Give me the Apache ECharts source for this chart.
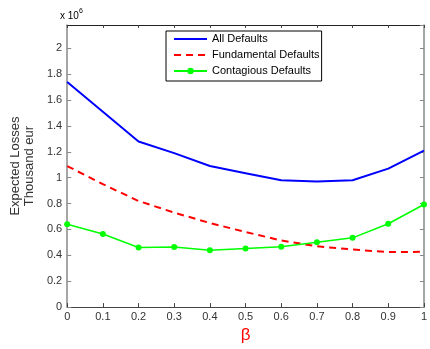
<!DOCTYPE html>
<html>
<head>
<meta charset="utf-8">
<script src="https://cdn.jsdelivr.net/npm/echarts@6/dist/echarts.min.js"></script>
<style>html,body{margin:0;padding:0;background:#fff}#c{width:430px;height:349px}</style>
</head>
<body>
<div id="c"></div>
<script>
const beta = [0, 0.1, 0.2, 0.3, 0.4, 0.5, 0.6, 0.7, 0.8, 0.9, 1];
const allDefaults = [1.74, 1.51, 1.28, 1.19, 1.09, 1.035, 0.98, 0.97, 0.98, 1.07, 1.21];
const fundamentalDefaults = [1.09, 0.95, 0.82, 0.73, 0.65, 0.58, 0.515, 0.47, 0.445, 0.425, 0.427];
const contagiousDefaults = [0.64, 0.565, 0.46, 0.465, 0.44, 0.452, 0.467, 0.502, 0.535, 0.644, 0.793];
const seriesNames = ['All Defaults', 'Fundamental Defaults', 'Contagious Defaults'];
const yAxisTitle = 'Expected Losses\nThousand eur';
const xAxisTitle = 'β';

const pairs = arr => beta.map((b, i) => [b, arr[i]]);
const font = 'Liberation Sans, Arial, sans-serif';
const fmt = v => String(+v.toFixed(1));

const chart = echarts.init(document.getElementById('c'), null, {renderer: 'canvas'});
chart.setOption({
  animation: false,
  backgroundColor: '#fff',
  textStyle: {fontFamily: font},
  grid: {left: 61, right: 3, top: 25, bottom: 36, containLabel: false},
  legend: {
    orient: 'vertical', left: 166, top: 31,
    padding: [2, 2, 4, 7], itemWidth: 33, itemHeight: 8, itemGap: 4,
    backgroundColor: '#fff', borderColor: '#000', borderWidth: 1, borderRadius: 0,
    textStyle: {fontFamily: font, fontSize: 11, color: '#000', lineHeight: 12},
    data: [
      {name: seriesNames[0], itemStyle: {opacity: 0}},
      {name: seriesNames[1], itemStyle: {opacity: 0}},
      {name: seriesNames[2]}
    ]
  },
  graphic: [{
    type: 'text', left: 60, top: 8,
    style: {
      text: '{a|x 10}{b|6}',
      rich: {
        a: {fontFamily: font, fontSize: 10, color: '#333', verticalAlign: 'bottom'},
        b: {fontFamily: font, fontSize: 7, color: '#333', verticalAlign: 'top', padding: [0, 0, 6, 0]}
      }
    }
  }],
  xAxis: [{
    type: 'value', min: 0, max: 1, interval: 0.1, position: 'bottom',
    name: xAxisTitle, nameLocation: 'middle', nameGap: 14,
    nameTextStyle: {color: '#ff0000', fontSize: 17, fontFamily: font},
    axisLine: {onZero: false, lineStyle: {color: '#444', width: 1}},
    axisTick: {inside: true, length: 4, lineStyle: {color: '#444'}},
    axisLabel: {color: '#333', fontSize: 11, margin: 4, formatter: fmt, fontFamily: font},
    splitLine: {show: false}
  }, {
    type: 'value', min: 0, max: 1, interval: 0.1, position: 'top',
    axisLine: {onZero: false, lineStyle: {color: '#222', width: 1}},
    axisTick: {inside: true, length: 3, lineStyle: {color: '#444'}},
    axisLabel: {show: false}, splitLine: {show: false}
  }],
  yAxis: [{
    type: 'value', min: 0, max: 2.18, interval: 0.2, position: 'left',
    name: yAxisTitle, nameLocation: 'middle', nameRotate: 90, nameGap: 25,
    nameTextStyle: {color: '#333', fontSize: 13, fontFamily: font, lineHeight: 14},
    axisLine: {onZero: false, lineStyle: {color: '#888', width: 1.5}},
    axisTick: {inside: true, length: 4, lineStyle: {color: '#888'}},
    axisLabel: {color: '#333', fontSize: 11, margin: 5, formatter: fmt, showMaxLabel: false, fontFamily: font},
    splitLine: {show: false}
  }, {
    type: 'value', min: 0, max: 2.18, interval: 0.2, position: 'right',
    axisLine: {onZero: false, lineStyle: {color: '#888', width: 1.5}},
    axisTick: {inside: true, length: 4, lineStyle: {color: '#888'}},
    axisLabel: {show: false}, splitLine: {show: false}
  }],
  series: [{
    name: seriesNames[0], type: 'line', data: pairs(allDefaults),
    symbol: 'none', lineStyle: {color: '#0000ff', width: 2}, itemStyle: {color: '#0000ff'}
  }, {
    name: seriesNames[1], type: 'line', data: pairs(fundamentalDefaults),
    symbol: 'none', lineStyle: {color: '#ff0000', width: 2, type: [7, 5]}, itemStyle: {color: '#ff0000'}
  }, {
    name: seriesNames[2], type: 'line', data: pairs(contagiousDefaults),
    symbol: 'circle', symbolSize: 6, showSymbol: true,
    lineStyle: {color: '#00ff00', width: 1.5}, itemStyle: {color: '#00ff00'}
  }]
});
</script>
</body>
</html>
